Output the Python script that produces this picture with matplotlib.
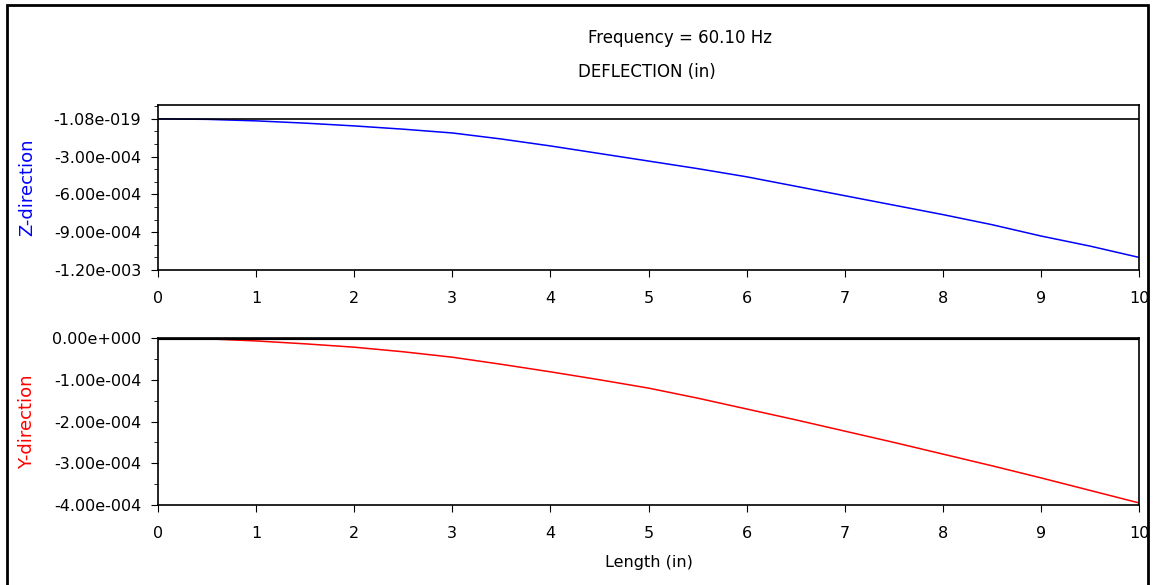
import matplotlib
matplotlib.use("Agg")
import matplotlib.pyplot as plt
from matplotlib.patches import Rectangle
from matplotlib.ticker import FixedLocator, MultipleLocator

plt.rcParams['font.family'] = ['DejaVu Sans']

# data
length = [0, 0.5, 1, 1.5, 2, 2.5, 3, 3.5, 4, 4.5, 5, 5.5, 6, 6.5, 7, 7.5, 8, 8.5, 9, 9.5, 10]
z_defl = [0, -0.4e-5, -1.6e-5, -3.4e-5, -5.6e-5, -8.2e-5, -1.12e-4, -1.6e-4, -2.15e-4, -2.75e-4,
          -3.35e-4, -3.95e-4, -4.6e-4, -5.35e-4, -6.1e-4, -6.85e-4, -7.6e-4, -8.4e-4, -9.3e-4,
          -1.01e-3, -1.1e-3]
y_defl = [0, -0.2e-5, -0.7e-5, -1.4e-5, -2.2e-5, -3.3e-5, -4.6e-5, -6.3e-5, -8.1e-5, -1.0e-4,
          -1.2e-4, -1.44e-4, -1.7e-4, -1.96e-4, -2.23e-4, -2.5e-4, -2.78e-4, -3.06e-4, -3.35e-4,
          -3.65e-4, -3.95e-4]

z_ticks = [0, -3e-4, -6e-4, -9e-4, -1.2e-3]
z_labels = ["-1.08e-019", "-3.00e-004", "-6.00e-004", "-9.00e-004", "-1.20e-003"]
y_ticks = [0, -1e-4, -2e-4, -3e-4, -4e-4]
y_labels = ["0.00e+000", "-1.00e-004", "-2.00e-004", "-3.00e-004", "-4.00e-004"]
x_ticks = list(range(11))

fig = plt.figure(figsize=(11.56, 5.85), dpi=100)
fs = 11.5

ax1 = fig.add_axes([158 / 1156, 1 - 270 / 585, (1139 - 158) / 1156, 165 / 585])
ax2 = fig.add_axes([158 / 1156, 1 - 505 / 585, (1139 - 158) / 1156, 167 / 585])

ax1.plot(length, z_defl, color="blue", lw=1.1)
ax1.axhline(0, color="black", lw=1.2)
ax1.set_ylim(-1.2e-3, 1.1e-4)
ax1.yaxis.set_major_locator(FixedLocator(z_ticks))
ax1.set_yticklabels(z_labels)
ax1.yaxis.set_minor_locator(MultipleLocator(1e-4))
ax1.set_ylabel("Z-direction", color="blue", fontsize=13)

ax2.plot(length, y_defl, color="red", lw=1.1)
ax2.axhline(0, color="black", lw=3)
ax2.set_ylim(-4e-4, 0)
ax2.yaxis.set_major_locator(FixedLocator(y_ticks))
ax2.set_yticklabels(y_labels)
ax2.yaxis.set_minor_locator(MultipleLocator(5e-5))
ax2.set_ylabel("Y-direction", color="red", fontsize=13)
ax2.set_xlabel("Length (in)", fontsize=fs, labelpad=10)

for ax in (ax1, ax2):
    ax.set_xlim(0, 10)
    ax.set_xticks(x_ticks)
    ax.tick_params(axis="both", which="major", direction="out", length=5, labelsize=fs, pad=7)
    ax.tick_params(axis="both", which="minor", direction="out", length=3)
    ax.tick_params(axis="x", pad=10)
    for sp in ax.spines.values():
        sp.set_linewidth(1.2)
    ax.yaxis.set_label_coords(-0.124, 0.5)

fig.text(680 / 1156, 1 - 38 / 585, "Frequency = 60.10 Hz", ha="center", va="center", fontsize=12)
fig.text(647 / 1156, 1 - 72 / 585, "DEFLECTION (in)", ha="center", va="center", fontsize=12)

fig.patches.append(Rectangle((7 / 1156, -0.01), 1141 / 1156, 1 - 5 / 585 + 0.01,
                             transform=fig.transFigure, fill=False, edgecolor="black", lw=2))

fig.savefig("out.png", dpi=100)
